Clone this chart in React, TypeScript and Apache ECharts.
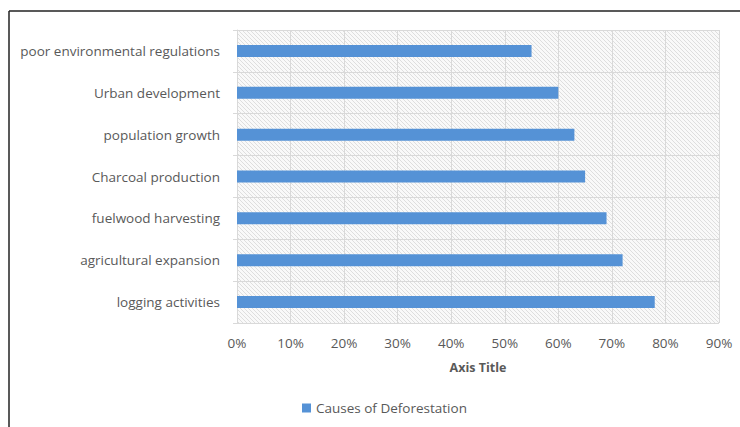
import React, { useEffect, useRef } from "react";
import * as echarts from "echarts";

const categories = [
  "logging activities",
  "agricultural expansion",
  "fuelwood harvesting",
  "Charcoal production",
  "population growth",
  "Urban development",
  "poor environmental regulations",
];
const values = [78, 72, 69, 65, 63, 60, 55];
const seriesName = "Causes of Deforestation";
const axisTitle = "Axis Title";

function makeHatch(): string {
  const n = 4;
  const c = document.createElement("canvas");
  c.width = n;
  c.height = n;
  const ctx = c.getContext("2d")!;
  const img = ctx.createImageData(n, n);
  for (let y = 0; y < n; y++) {
    for (let x = 0; x < n; x++) {
      const i = (y * n + x) * 4;
      const on = x === y;
      const v = on ? 222 : 249;
      img.data[i] = v;
      img.data[i + 1] = v;
      img.data[i + 2] = v;
      img.data[i + 3] = 255;
    }
  }
  ctx.putImageData(img, 0, 0);
  return c.toDataURL();
}

export default function App() {
  const ref = useRef<HTMLDivElement>(null);
  useEffect(() => {
    if (!ref.current) return;
    const chart = echarts.init(ref.current, undefined, { renderer: "svg" });
    const hatch = makeHatch();
    const font = "'Open Sans', 'Noto Sans', sans-serif";
    chart.setOption({
      animation: false,
      backgroundColor: "#ffffff",
      textStyle: { fontFamily: font },
      grid: {
        left: 237,
        right: 21,
        top: 30,
        bottom: 104,
        show: true,
        borderWidth: 0,
        backgroundColor: { image: hatch, repeat: "repeat" },
      },
      legend: {
        data: [seriesName],
        bottom: 7,
        left: 297,
        itemWidth: 9,
        itemHeight: 9,
        itemGap: 4,
        icon: "rect",
        textStyle: { color: "#595959", fontSize: 13.5, fontFamily: font },
      },
      xAxis: {
        type: "value",
        min: 0,
        max: 90,
        interval: 10,
        axisLabel: {
          formatter: "{value}%",
          color: "#595959",
          fontSize: 13.5,
          margin: 13,
          fontFamily: font,
        },
        axisLine: { show: false },
        axisTick: { show: false },
        splitLine: { show: true, lineStyle: { color: "#d9d9d9", width: 1 } },
        name: axisTitle,
        nameLocation: "middle",
        nameGap: 38,
        nameTextStyle: {
          color: "#595959",
          fontSize: 12.5,
          fontWeight: "bold",
          fontFamily: font,
        },
      },
      yAxis: {
        type: "category",
        data: categories,
        axisLabel: {
          color: "#595959",
          fontSize: 13.5,
          margin: 17,
          fontFamily: font,
        },
        axisLine: { show: true, lineStyle: { color: "#d9d9d9" } },
        axisTick: { show: true, length: 4, lineStyle: { color: "#d9d9d9" } },
        splitLine: { show: true, lineStyle: { color: "#d9d9d9", width: 1 } },
      },
      series: [
        {
          name: seriesName,
          type: "bar",
          data: values,
          barWidth: 12,
          itemStyle: { color: "#5592d6" },
        },
      ],
      graphic: [
        {
          type: "line",
          shape: { x1: 9, y1: 11, x2: 740, y2: 11 },
          style: { stroke: "#222", lineWidth: 1.5 },
          silent: true,
        },
        {
          type: "line",
          shape: { x1: 9, y1: 11, x2: 9, y2: 427 },
          style: { stroke: "#222", lineWidth: 1.5 },
          silent: true,
        },
      ],
    });
    return () => chart.dispose();
  }, []);
  return (
    <div
      ref={ref}
      style={{ position: "fixed", left: 0, top: 0, width: 740, height: 427 }}
    />
  );
}
